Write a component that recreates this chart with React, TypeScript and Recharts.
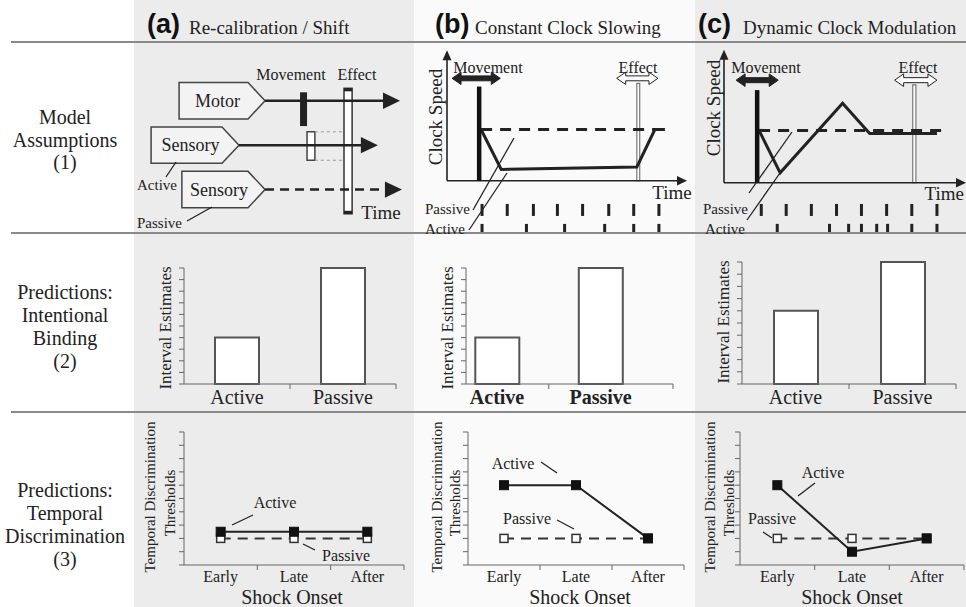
import React from 'react';
import {
  ComposedChart,
  Line,
  Bar,
  Scatter,
  XAxis,
  YAxis,
  ReferenceLine,
  ReferenceArea,
  ReferenceDot,
} from 'recharts';

const SERIF = '"Liberation Serif", "Times New Roman", serif';
const SANS = '"Liberation Sans", Arial, sans-serif';
const INK = '#222';
const GREY = '#666';

// ---- headers ----
const panelLetters = ['(a)', '(b)', '(c)'];
const panelTitles = ['Re-calibration / Shift', 'Constant Clock Slowing', 'Dynamic Clock Modulation'];
const rowTitles = [
  ['Model', 'Assumptions', '(1)'],
  ['Predictions:', 'Intentional', 'Binding', '(2)'],
  ['Predictions:', 'Temporal', 'Discrimination', '(3)'],
];

// ---- (a) pathway schematic (time units 0-100, channel level) ----
const pathwayNames = ['Motor', 'Sensory', 'Sensory'];
const pathwayLevels = [3, 2, 1];
const pathwayBoxStart = [16.1, 6.1, 17.1];
const pathwayBoxEnd = [46.8, 37.5, 46.8];
const pathwayArrowEnd = [95, 87.1, 95.7];
const pathwayDashed = [false, false, true];
const movementBlock = [59.3, 61.8, 2.43, 3.19];
const perceivedBlock = [61.8, 64.6, 1.66, 2.3];
const effectBar = [75, 77.9, 0.455, 3.28];

// ---- (b) constant clock slowing ----
const bPassiveClock = [
  { t: 14.2, s: 1 },
  { t: 90.8, s: 1 },
];
const bActiveClock = [
  { t: 14.2, s: 1 },
  { t: 22.6, s: 0.22 },
  { t: 79.1, s: 0.27 },
  { t: 86.6, s: 1 },
  { t: 90.8, s: 1 },
];
const bPassiveSpikes = [14.6, 25.1, 36.0, 46.0, 56.5, 67.4, 77.8, 88.3];
const bActiveSpikes = [14.6, 33.1, 49.0, 65.7, 77.8, 88.3];

// ---- (c) dynamic clock modulation ----
const cPassiveClock = [
  { t: 14.5, s: 1 },
  { t: 90.5, s: 1 },
];
const cActiveClock = [
  { t: 14.5, s: 1 },
  { t: 23.2, s: 0.19 },
  { t: 49, s: 1.52 },
  { t: 60.2, s: 0.94 },
  { t: 88, s: 0.94 },
];
const cPassiveSpikes = [15.4, 25.7, 36.1, 46.5, 56.8, 67.2, 77.6, 88.0];
const cActiveSpikes = [22, 43.6, 51.5, 56.8, 63.1, 67.6, 77.6, 88.0];

// ---- (2) intentional binding ----
const groups = ['Active', 'Passive'];
const bindingA = [4, 10];
const bindingB = [4, 10];
const bindingC = [6, 10];

// ---- (3) temporal discrimination ----
const onsets = ['Early', 'Late', 'After'];
const activeA = [2.5, 2.5, 2.5];
const passiveA = [2, 2, 2];
const activeB = [6, 6, 2];
const passiveB = [2, 2, 2];
const activeC = [6, 1, 2];
const passiveC = [2, 2, 2];

const yTicks = [0, 1, 2, 3, 4, 5, 6, 7, 8, 9, 10];

// page grid
const COL = [
  [134, 414],
  [414, 695],
  [695, 966],
];
const ROW = [
  [0, 42],
  [43, 232],
  [234, 411],
  [413, 607],
];

type Plot = { l: number; r: number; t: number; b: number };

// axes take 1px (a 0px axis is not drawn), so margins leave room for it
function frame(col: number, row: number, plot: Plot) {
  const [l, r] = COL[col];
  const [t, b] = ROW[row];
  return {
    style: { position: 'absolute' as const, left: l, top: t },
    width: r - l,
    height: b - t,
    margin: { left: plot.l - l - 1, right: r - plot.r, top: plot.t - t, bottom: b - plot.b - 1 },
  };
}

// shapes
const arrowRight = (size: number) => (p: any) => (
  <polygon
    points={`${p.cx},${p.cy} ${p.cx - size},${p.cy - size * 0.48} ${p.cx - size},${p.cy + size * 0.48}`}
    fill={INK}
  />
);
const arrowUp = (size: number) => (p: any) => (
  <polygon
    points={`${p.cx},${p.cy} ${p.cx - size * 0.45},${p.cy + size} ${p.cx + size * 0.45},${p.cy + size}`}
    fill={INK}
  />
);
const doubleArrow = (fill: string) => (p: any) => {
  const { x, y, width: w, height: h } = p;
  const hw = 9;
  const a = y + h * 0.3;
  const b = y + h * 0.7;
  return (
    <polygon
      points={`${x},${y + h / 2} ${x + hw},${y} ${x + hw},${a} ${x + w - hw},${a} ${x + w - hw},${y} ${x + w},${y + h / 2} ${x + w - hw},${y + h} ${x + w - hw},${b} ${x + hw},${b} ${x + hw},${y + h}`}
      fill={fill}
      stroke={INK}
      strokeWidth={1}
    />
  );
};
const pentagon = (label: string) => (p: any) => {
  const { x, y, width: w, height: h } = p;
  const tip = 17;
  return (
    <g>
      <polygon
        points={`${x},${y} ${x + w - tip},${y} ${x + w},${y + h / 2} ${x + w - tip},${y + h} ${x},${y + h}`}
        fill="#f3f3f3"
        stroke="#444"
        strokeWidth={1.5}
      />
      <text
        x={x + (w - tip) / 2 + 4}
        y={y + h / 2}
        textAnchor="middle"
        dominantBaseline="central"
        fontSize={18}
        fontFamily={SERIF}
        fill={INK}
      >
        {label}
      </text>
    </g>
  );
};
// effect bar: white bar with dark caps top and bottom
const capBar = (p: any) => {
  const { x, y, width: w, height: h } = p;
  return (
    <g>
      <rect x={x} y={y} width={w} height={h} fill="#fff" stroke="#333" strokeWidth={1.5} />
      <rect x={x} y={y} width={w} height={3} fill="#222" />
      <rect x={x} y={y + h - 3} width={w} height={3} fill="#222" />
    </g>
  );
};
const spike = (p: any) => <rect x={p.cx - 1.5} y={p.cy - 6} width={3} height={12} fill={INK} />;

function catTick(p: any, labels: string[], size: number, bold: boolean, dy: number) {
  const v = p.payload.value;
  const idx = v - 0.5;
  if (Number.isInteger(idx) && labels[idx]) {
    return (
      <text
        x={p.x}
        y={p.y + dy}
        textAnchor="middle"
        dominantBaseline="central"
        fontSize={size}
        fontWeight={bold ? 700 : 400}
        fontFamily={SERIF}
        fill={INK}
      >
        {labels[idx]}
      </text>
    );
  }
  return <line x1={p.x} x2={p.x} y1={p.y} y2={p.y + 5} stroke={GREY} />;
}

function PathwayPanel() {
  const f = frame(0, 1, { l: 135, r: 414, t: 43, b: 233 });
  return (
    <div style={f.style}>
      <ComposedChart width={f.width} height={f.height} margin={f.margin}>
        <XAxis type="number" dataKey="t" domain={[0, 100]} hide />
        <YAxis type="number" dataKey="s" domain={[0, 4.3]} hide />
        {pathwayLevels.map((lv, i) => (
          <Line
            key={`ln${i}`}
            data={[
              { t: pathwayBoxEnd[i], s: lv },
              { t: pathwayArrowEnd[i] - 4, s: lv },
            ]}
            dataKey="s"
            stroke={INK}
            strokeWidth={2.5}
            strokeDasharray={pathwayDashed[i] ? '9 6' : undefined}
            dot={false}
            activeDot={false}
            isAnimationActive={false}
          />
        ))}
        {pathwayLevels.map((lv, i) => (
          <ReferenceDot key={`ar${i}`} x={pathwayArrowEnd[i]} y={lv} shape={arrowRight(17)} />
        ))}
        {pathwayLevels.map((lv, i) => (
          <ReferenceArea
            key={`bx${i}`}
            x1={pathwayBoxStart[i]}
            x2={pathwayBoxEnd[i]}
            y1={lv - 0.41}
            y2={lv + 0.41}
            shape={pentagon(pathwayNames[i])}
          />
        ))}
        <ReferenceArea
          x1={movementBlock[0]}
          x2={movementBlock[1]}
          y1={movementBlock[2]}
          y2={movementBlock[3]}
          fill={INK}
          fillOpacity={1}
        />
        <ReferenceLine
          segment={[
            { x: perceivedBlock[1], y: perceivedBlock[3] },
            { x: effectBar[0], y: perceivedBlock[3] },
          ]}
          stroke="#999"
          strokeDasharray="3 3"
        />
        <ReferenceLine
          segment={[
            { x: perceivedBlock[1], y: perceivedBlock[2] },
            { x: effectBar[0], y: perceivedBlock[2] },
          ]}
          stroke="#999"
          strokeDasharray="3 3"
        />
        <ReferenceArea
          x1={perceivedBlock[0]}
          x2={perceivedBlock[1]}
          y1={perceivedBlock[2]}
          y2={perceivedBlock[3]}
          fill="#fff"
          fillOpacity={1}
          stroke="#444"
          strokeWidth={1.5}
        />
        <ReferenceArea
          x1={effectBar[0]}
          x2={effectBar[1]}
          y1={effectBar[2]}
          y2={effectBar[3]}
          shape={capBar}
        />
      </ComposedChart>
    </div>
  );
}

type ClockProps = {
  col: number;
  plot: Plot;
  yDomain: [number, number];
  yTop: number;
  passiveClock: { t: number; s: number }[];
  activeClock: { t: number; s: number }[];
  passiveSpikes: number[];
  activeSpikes: number[];
  rows: [number, number];
  movement: [number, number];
  effect: [number, number, number];
  moveArrow: [number, number, number];
  effectArrow: [number, number, number];
  arrowHalf: number;
};

function ClockPanel(c: ClockProps) {
  const f = frame(c.col, 1, c.plot);
  return (
    <div style={f.style}>
      <ComposedChart width={f.width} height={f.height} margin={f.margin}>
        <XAxis type="number" dataKey="t" domain={[0, 100]} hide />
        <YAxis type="number" dataKey="s" domain={c.yDomain} hide />
        <ReferenceLine segment={[{ x: 0, y: 0 }, { x: 99, y: 0 }]} stroke={INK} strokeWidth={1.6} />
        <ReferenceLine segment={[{ x: 0, y: 0 }, { x: 0, y: c.yTop - 0.1 }]} stroke={INK} strokeWidth={1.6} />
        <ReferenceDot x={100} y={0} shape={arrowRight(10)} />
        <ReferenceDot x={0} y={c.yTop} shape={arrowUp(10)} />
        <Line
          data={c.passiveClock}
          dataKey="s"
          stroke={INK}
          strokeWidth={3}
          strokeDasharray="11 8"
          dot={false}
          activeDot={false}
          isAnimationActive={false}
        />
        <Line
          data={c.activeClock}
          dataKey="s"
          stroke={INK}
          strokeWidth={3}
          dot={false}
          activeDot={false}
          isAnimationActive={false}
        />
        <ReferenceLine
          segment={[
            { x: c.movement[0], y: 0 },
            { x: c.movement[0], y: c.movement[1] },
          ]}
          stroke="#111"
          strokeWidth={4.5}
        />
        <ReferenceArea
          x1={c.effect[0]}
          x2={c.effect[1]}
          y1={0}
          y2={c.effect[2]}
          fill="#fff"
          fillOpacity={1}
          stroke="#777"
          strokeWidth={1.2}
        />
        <ReferenceArea
          x1={c.moveArrow[0]}
          x2={c.moveArrow[1]}
          y1={c.moveArrow[2] - c.arrowHalf}
          y2={c.moveArrow[2] + c.arrowHalf}
          shape={doubleArrow(INK)}
        />
        <ReferenceArea
          x1={c.effectArrow[0]}
          x2={c.effectArrow[1]}
          y1={c.effectArrow[2] - c.arrowHalf}
          y2={c.effectArrow[2] + c.arrowHalf}
          shape={doubleArrow('#fff')}
        />
        <Scatter
          data={c.passiveSpikes.map((t) => ({ t, s: c.rows[0] }))}
          dataKey="s"
          shape={spike}
          isAnimationActive={false}
        />
        <Scatter
          data={c.activeSpikes.map((t) => ({ t, s: c.rows[1] }))}
          dataKey="s"
          shape={spike}
          isAnimationActive={false}
        />
      </ComposedChart>
    </div>
  );
}

function BindingPanel({
  col,
  values,
  plot,
  xDomain,
  bold,
}: {
  col: number;
  values: number[];
  plot: Plot;
  xDomain: [number, number];
  bold?: boolean;
}) {
  const f = frame(col, 2, plot);
  const data = groups.map((g, i) => ({ x: i + 0.5, v: values[i], name: g }));
  return (
    <div style={f.style}>
      <ComposedChart width={f.width} height={f.height} margin={f.margin} data={data}>
        <XAxis
          type="number"
          dataKey="x"
          domain={xDomain}
          allowDataOverflow
          ticks={[0.5, 1, 1.5, xDomain[1]]}
          interval={0}
          tickLine={false}
          tickSize={0}
          tickMargin={0}
          height={1}
          stroke={GREY}
          tick={(p: any) => catTick(p, groups, 20, !!bold, 13)}
        />
        <YAxis
          type="number"
          domain={[0, 10]}
          ticks={yTicks}
          interval={0}
          width={1}
          tickSize={5}
          tickFormatter={() => ''}
          stroke={GREY}
        />
        <Bar dataKey="v" barSize={44} fill="#fff" stroke="#555" strokeWidth={2} isAnimationActive={false} />
      </ComposedChart>
    </div>
  );
}

const hollowSquare = (p: any) => (
  <rect key={`h${p.index}`} x={p.cx - 4} y={p.cy - 4} width={8} height={8} fill="#fff" stroke="#333" strokeWidth={1.5} />
);
const filledSquare = (p: any) => (
  <rect key={`f${p.index}`} x={p.cx - 4.5} y={p.cy - 4.5} width={9} height={9} fill="#111" stroke="#111" />
);

function ThresholdPanel({
  col,
  plot,
  active,
  passive,
}: {
  col: number;
  plot: Plot;
  active: number[];
  passive: number[];
}) {
  const f = frame(col, 3, plot);
  const data = onsets.map((o, i) => ({ x: i + 0.5, active: active[i], passive: passive[i], name: o }));
  return (
    <div style={f.style}>
      <ComposedChart width={f.width} height={f.height} margin={f.margin} data={data}>
        <XAxis
          type="number"
          dataKey="x"
          domain={[0, 3]}
          ticks={[0.5, 1, 1.5, 2, 2.5, 3]}
          interval={0}
          tickLine={false}
          tickSize={0}
          tickMargin={0}
          height={1}
          stroke={GREY}
          tick={(p: any) => catTick(p, onsets, 16, false, 11)}
        />
        <YAxis
          type="number"
          domain={[0, 10]}
          ticks={yTicks}
          interval={0}
          width={1}
          tickSize={5}
          tickFormatter={() => ''}
          stroke={GREY}
        />
        <Line
          dataKey="passive"
          stroke="#333"
          strokeWidth={2}
          strokeDasharray="10 7"
          dot={hollowSquare}
          activeDot={false}
          isAnimationActive={false}
        />
        <Line
          dataKey="active"
          stroke="#222"
          strokeWidth={2}
          dot={filledSquare}
          activeDot={false}
          isAnimationActive={false}
        />
      </ComposedChart>
    </div>
  );
}

const T = (props: any) => (
  <text
    fontFamily={SERIF}
    fill={INK}
    dominantBaseline="central"
    textAnchor="middle"
    {...props}
  />
);

function Backdrop() {
  return (
    <svg width={966} height={607} style={{ position: 'absolute', left: 0, top: 0 }}>
      <rect x={0} y={0} width={966} height={607} fill="#fff" />
      <rect x={COL[0][0]} y={0} width={COL[0][1] - COL[0][0]} height={607} fill="#ececec" />
      <rect x={COL[1][0]} y={0} width={COL[1][1] - COL[1][0]} height={607} fill="#fafafa" />
      <rect x={COL[2][0]} y={0} width={COL[2][1] - COL[2][0]} height={607} fill="#ececec" />
      {[42, 233, 412].map((y) => (
        <line key={y} x1={11} x2={966} y1={y} y2={y} stroke="#8a8a8a" strokeWidth={2} />
      ))}
    </svg>
  );
}

function Labels() {
  const letterX = [147, 435, 698];
  const titleX = [189, 475, 743];
  const rowY = [
    [117, 140, 162],
    [292, 315, 338, 361],
    [490, 513, 536, 559],
  ];
  const lead = { stroke: INK, strokeWidth: 1.3 };
  return (
    <svg width={966} height={607} style={{ position: 'absolute', left: 0, top: 0, pointerEvents: 'none' }}>
      {panelLetters.map((l, i) => (
        <text key={l} x={letterX[i]} y={33} fontFamily={SANS} fontWeight={700} fontSize={27} fill="#111">
          {l}
        </text>
      ))}
      {panelTitles.map((t, i) => (
        <text key={t} x={titleX[i]} y={34} fontFamily={SERIF} fontSize={19} fill={INK}>
          {t}
        </text>
      ))}
      {rowTitles.map((lines, r) =>
        lines.map((s, k) => (
          <T key={`${r}-${k}`} x={65} y={rowY[r][k]} fontSize={20}>
            {s}
          </T>
        ))
      )}

      {/* (a) schematic */}
      <T x={291} y={74} fontSize={16}>Movement</T>
      <T x={357} y={74} fontSize={16}>Effect</T>
      <T x={381} y={212} fontSize={19}>Time</T>
      <T x={137} y={185} fontSize={15} textAnchor="start">Active</T>
      <T x={137} y={223} fontSize={15} textAnchor="start">Passive</T>
      <line x1={166} y1={177} x2={176} y2={162} {...lead} />
      <line x1={187} y1={221} x2={212} y2={207} {...lead} />

      {/* (b) schematic */}
      <T x={435} y={117} fontSize={19} transform="rotate(-90 435 117)">Clock Speed</T>
      <T x={488} y={67} fontSize={16}>Movement</T>
      <T x={638} y={67} fontSize={16}>Effect</T>
      <T x={672} y={192} fontSize={19}>Time</T>
      <T x={425} y={209} fontSize={15} textAnchor="start">Passive</T>
      <T x={425} y={229} fontSize={15} textAnchor="start">Active</T>
      <line x1={473} y1={210} x2={514} y2={138} {...lead} />
      <line x1={469} y1={230} x2={507} y2={173} {...lead} />

      {/* (c) schematic */}
      <T x={713} y={108} fontSize={19} transform="rotate(-90 713 108)">Clock Speed</T>
      <T x={766} y={67} fontSize={16}>Movement</T>
      <T x={918} y={67} fontSize={16}>Effect</T>
      <T x={964} y={193} fontSize={19} textAnchor="end">Time</T>
      <T x={703} y={209} fontSize={15} textAnchor="start">Passive</T>
      <T x={705} y={229} fontSize={15} textAnchor="start">Active</T>
      <line x1={749} y1={193} x2={792} y2={132} {...lead} />
      <line x1={747} y1={220} x2={780} y2={173} {...lead} />

      {/* row 2 axis titles */}
      <T x={165} y={328} fontSize={17} transform="rotate(-90 165 328)">Interval Estimates</T>
      <T x={447} y={328} fontSize={17} transform="rotate(-90 447 328)">Interval Estimates</T>
      <T x={723} y={322} fontSize={17} transform="rotate(-90 723 322)">Interval Estimates</T>

      {/* row 3 axis titles and annotations */}
      {[
        [150, 170, 292],
        [437, 455, 580],
        [710, 729, 852],
      ].map(([x1, x2, xc], i) => (
        <g key={`r3${i}`}>
          <T x={x1} y={497} fontSize={15} transform={`rotate(-90 ${x1} 497)`}>Temporal Discrimination</T>
          <T x={x2} y={503} fontSize={15} transform={`rotate(-90 ${x2} 503)`}>Thresholds</T>
          <T x={xc} y={597} fontSize={20}>Shock Onset</T>
        </g>
      ))}
      <T x={275} y={502} fontSize={16}>Active</T>
      <line x1={232} y1={525} x2={253} y2={515} {...lead} />
      <T x={346} y={555} fontSize={16}>Passive</T>
      <line x1={303} y1={544} x2={315} y2={550} {...lead} />

      <T x={513} y={463} fontSize={16}>Active</T>
      <line x1={541} y1={462} x2={557} y2={473} {...lead} />
      <T x={527} y={518} fontSize={16}>Passive</T>
      <line x1={557} y1={520} x2={574} y2={529} {...lead} />

      <T x={823} y={472} fontSize={16}>Active</T>
      <line x1={798} y1={496} x2={815} y2={483} {...lead} />
      <T x={772} y={518} fontSize={16}>Passive</T>
      <line x1={763} y1={532} x2={772} y2={538} {...lead} />
    </svg>
  );
}

export default function App() {
  return (
    <div
      style={{
        position: 'absolute',
        left: 0,
        top: 0,
        width: 966,
        height: 607,
        overflow: 'hidden',
        background: '#fff',
        fontFamily: SERIF,
      }}
    >
      <Backdrop />
      <PathwayPanel />
      <ClockPanel
        col={1}
        plot={{ l: 448, r: 687, t: 43, b: 232 }}
        yDomain={[-1.02, 2.69]}
        yTop={2.55}
        passiveClock={bPassiveClock}
        activeClock={bActiveClock}
        passiveSpikes={bPassiveSpikes}
        activeSpikes={bActiveSpikes}
        rows={[-0.57, -0.96]}
        movement={[13.4, 1.84]}
        effect={[79.1, 80.3, 1.9]}
        moveArrow={[2.1, 22.2, 2.0]}
        effectArrow={[70.7, 87.9, 2.0]}
        arrowHalf={0.12}
      />
      <ClockPanel
        col={2}
        plot={{ l: 725, r: 966, t: 43, b: 232 }}
        yDomain={[-0.96, 2.67]}
        yTop={2.54}
        passiveClock={cPassiveClock}
        activeClock={cActiveClock}
        passiveSpikes={cPassiveSpikes}
        activeSpikes={cActiveSpikes}
        rows={[-0.52, -0.9]}
        movement={[13.7, 1.77]}
        effect={[78, 79.3, 1.87]}
        moveArrow={[5, 22.4, 1.96]}
        effectArrow={[70.5, 88, 1.96]}
        arrowHalf={0.12}
      />
      <BindingPanel col={0} values={bindingA} plot={{ l: 184, r: 396, t: 268, b: 384 }} xDomain={[0, 2]} />
      <BindingPanel col={1} values={bindingB} plot={{ l: 466, r: 673, t: 268, b: 384 }} xDomain={[0.2, 2.2]} bold />
      <BindingPanel col={2} values={bindingC} plot={{ l: 742, r: 956, t: 262, b: 384 }} xDomain={[0, 2]} />
      <ThresholdPanel col={0} plot={{ l: 184, r: 404, t: 432, b: 565 }} active={activeA} passive={passiveA} />
      <ThresholdPanel col={1} plot={{ l: 468, r: 684, t: 432, b: 565 }} active={activeB} passive={passiveB} />
      <ThresholdPanel col={2} plot={{ l: 740, r: 964, t: 432, b: 565 }} active={activeC} passive={passiveC} />
      <Labels />
    </div>
  );
}
